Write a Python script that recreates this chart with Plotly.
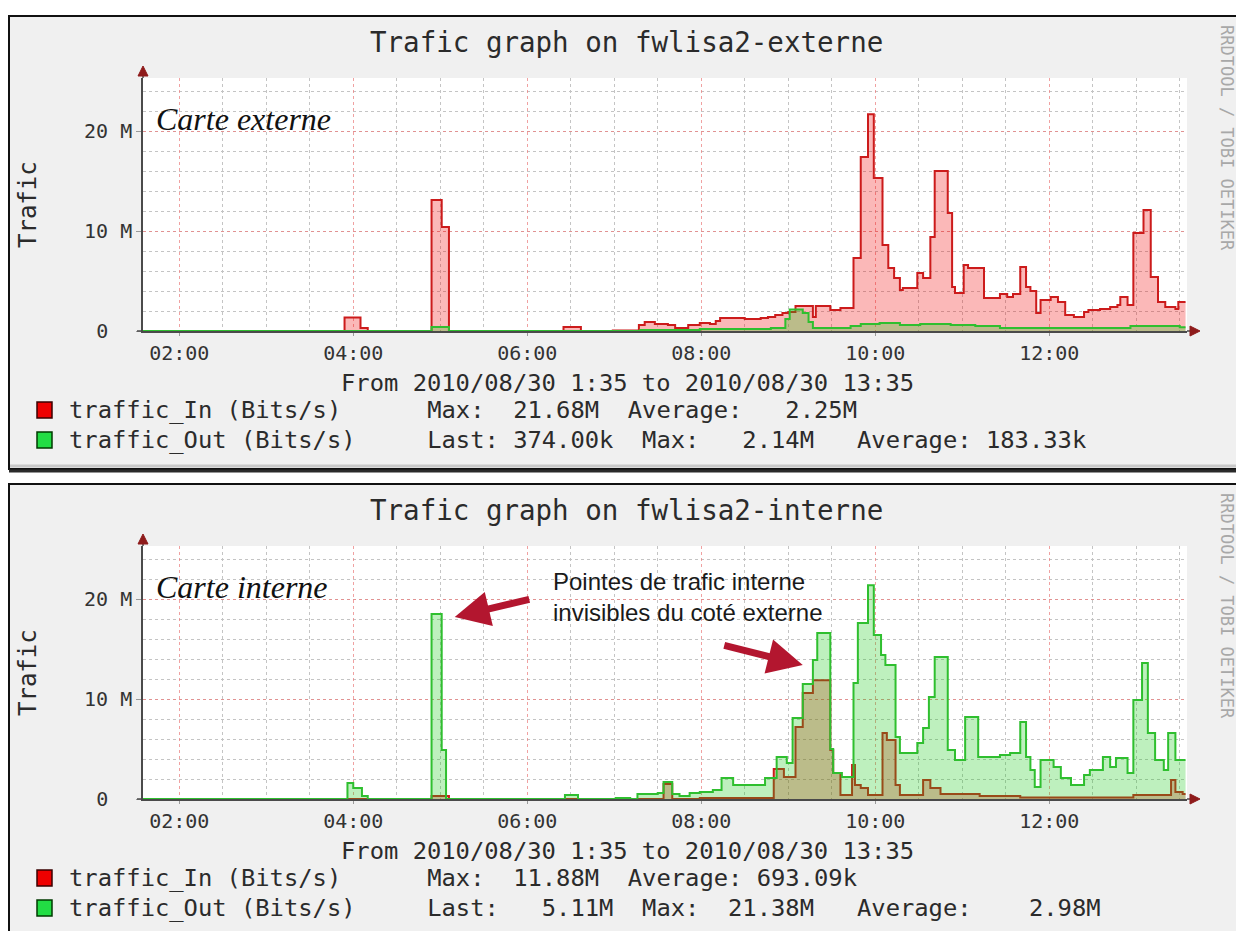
import plotly.graph_objects as go

# ---------------- DATA (values in Mbit/s) ----------------
DATE = "2010-08-30 "

EXT_IN_T = ["01:35","03:54","04:05","04:10","04:54","05:01","05:06","06:25","06:37","06:59",
            "07:17","07:21","07:28","07:37","07:42","07:51","07:59","08:06","08:10","08:13",
            "08:30","08:41","08:46","08:51","08:56","09:00","09:05","09:17","09:19","09:29",
            "09:36","09:45","09:50","09:55","09:59","10:05","10:09","10:13","10:17","10:19",
            "10:29","10:33","10:38","10:41","10:50","10:53","10:55","11:01","11:04","11:15",
            "11:26","11:31","11:35","11:40","11:44","11:47","11:51","11:54","12:01","12:06",
            "12:11","12:17","12:24","12:27","12:35","12:42","12:47","12:49","12:54","12:58",
            "13:05","13:10","13:15","13:20","13:27","13:29","13:34"]
EXT_IN_V = [0, 1.35, 0.3, 0, 13.1, 10.4, 0, 0.4, 0, 0.05,
            0.6, 0.9, 0.7, 0.6, 0.3, 0.6, 0.8, 0.7, 1.0, 1.3,
            1.2, 1.3, 1.4, 1.6, 1.8, 1.9, 2.5, 1.4, 2.5, 2.1,
            2.3, 7.3, 17.4, 21.68, 15.3, 8.6, 6.3, 5.3, 4.1, 4.3,
            5.8, 5.3, 9.4, 16.0, 11.8, 4.4, 3.8, 6.6, 6.3, 3.3,
            3.7, 3.4, 3.7, 6.4, 4.4, 4.0, 1.8, 3.1, 3.4, 2.9,
            1.6, 1.4, 1.9, 2.1, 2.2, 2.4, 2.6, 3.4, 2.6, 9.8,
            12.1, 5.4, 2.9, 2.4, 2.2, 2.9, 2.9]

EXT_OUT_T = ["01:35","04:54","05:06","07:18","07:59","08:48","08:58","09:01","09:10","09:14",
             "09:17","09:43","09:50","10:03","10:17","10:31","10:52","11:09","11:26","12:56",
             "13:30","13:34"]
EXT_OUT_V = [0, 0.4, 0, 0.1, 0.2, 0.3, 1.2, 2.14, 1.8, 0.9,
             0.3, 0.5, 0.7, 0.8, 0.6, 0.7, 0.6, 0.5, 0.3, 0.5,
             0.37, 0.37]

INT_IN_T = ["01:35","04:54","05:06","07:34","07:40","07:59","08:50","08:57","09:05","09:10",
            "09:17","09:29","09:31","09:36","09:44","09:46","09:50","09:55","10:05","10:08",
            "10:14","10:17","10:33","10:38","10:45","11:12","11:40","12:58","13:24","13:27",
            "13:32","13:34"]
INT_IN_V = [0, 0.3, 0, 1.5, 0, 0.1, 3.0, 2.2, 7.2, 10.6,
            11.88, 4.9, 2.6, 0.4, 3.4, 1.4, 1.1, 0.4, 6.6, 5.9,
            1.4, 0.4, 1.9, 1.1, 0.5, 0.3, 0.15, 0.4, 1.9, 0.7,
            0.5, 0.5]

INT_OUT_T = ["01:35","03:56","04:00","04:06","04:10","04:54","05:01","05:04","06:26","06:35",
             "07:01","07:11","07:16","07:30","07:34","07:40","07:45","07:52","07:59","08:08",
             "08:14","08:22","08:44","08:52","08:59","09:03","09:10","09:17","09:20","09:29",
             "09:31","09:37","09:45","09:48","09:55","09:59","10:04","10:07","10:14","10:17",
             "10:29","10:33","10:37","10:41","10:50","10:55","11:02","11:11","11:26","11:33",
             "11:40","11:44","11:47","11:50","11:54","12:03","12:08","12:15","12:24","12:28",
             "12:37","12:42","12:46","12:54","12:58","13:04","13:08","13:13","13:19","13:22",
             "13:27","13:34"]
INT_OUT_V = [0, 1.6, 1.1, 0.3, 0, 18.5, 4.9, 0, 0.4, 0,
             0.1, 0, 0.5, 0.6, 1.7, 0.5, 0.3, 0.6, 0.7, 0.9,
             2.1, 1.4, 2.1, 4.2, 3.6, 8.1, 11.5, 13.9, 16.6, 5.0,
             2.6, 2.2, 11.6, 17.6, 21.38, 16.4, 14.4, 13.4, 6.2, 4.6,
             5.6, 7.1, 10.2, 14.2, 4.9, 3.9, 8.2, 4.2, 4.4, 4.6,
             7.7, 4.2, 2.9, 1.2, 3.9, 3.2, 2.1, 1.4, 2.4, 2.9,
             4.2, 3.2, 4.1, 2.6, 9.9, 13.6, 6.6, 3.9, 2.9, 6.6,
             3.9, 3.9]

TITLES = ["Trafic graph on fwlisa2-externe", "Trafic graph on fwlisa2-interne"]
CARDS = ["Carte externe", "Carte interne"]
PERIOD = "From 2010/08/30 1:35 to 2010/08/30 13:35"
LEGEND_IN = ["traffic_In (Bits/s)      Max:  21.68M  Average:   2.25M",
             "traffic_In (Bits/s)      Max:  11.88M  Average: 693.09k"]
LEGEND_OUT = ["traffic_Out (Bits/s)     Last: 374.00k  Max:   2.14M   Average: 183.33k",
              "traffic_Out (Bits/s)     Last:   5.11M  Max:  21.38M   Average:    2.98M"]
Y_TICKS = [0, 10, 20]
Y_TICKTEXT = ["0\u00a0\u00a0", "10 M", "20 M"]
NOTE = "Pointes de trafic interne<br>invisibles du coté externe"

# ---------------- STYLE / GEOMETRY ----------------
W, H = 1236, 931
OFF = 468            # vertical offset between the two panels (px)
PLOT_L, PLOT_R = 143, 1187
PLOT_T, PLOT_B = 78, 331

RED_LINE = "#cc1b1b"
RED_FILL = "rgba(240,0,0,0.28)"
GREEN_LINE = "#2fbf2f"
GREEN_FILL = "rgba(20,200,20,0.28)"
MONO = "DejaVu Sans Mono"


def px(x):
    return x / W


def py(y):
    return 1 - y / H


def stamp(ts):
    return [DATE + t for t in ts]


fig = go.Figure()

series = [
    (EXT_IN_T, EXT_IN_V, RED_LINE, RED_FILL, "x", "y"),
    (EXT_OUT_T, EXT_OUT_V, GREEN_LINE, GREEN_FILL, "x", "y"),
    (INT_IN_T, INT_IN_V, RED_LINE, RED_FILL, "x2", "y2"),
    (INT_OUT_T, INT_OUT_V, GREEN_LINE, GREEN_FILL, "x2", "y2"),
]
for ts, vs, lc, fc, xa, ya in series:
    fig.add_trace(go.Scatter(
        x=stamp(ts), y=vs, mode="lines",
        line=dict(shape="hv", color=lc, width=2),
        fill="tozeroy", fillcolor=fc,
        xaxis=xa, yaxis=ya, showlegend=False, hoverinfo="skip"))


def xaxis_cfg(off, anchor):
    return dict(
        type="date", anchor=anchor, automargin=False,
        domain=[px(PLOT_L), px(PLOT_R)],
        range=[DATE + "01:35", DATE + "13:35"],
        tickformat="%H:%M", tick0=DATE + "02:00", dtick=7200000,
        showgrid=True, gridcolor="rgba(235,130,130,0.75)", griddash="dot", gridwidth=1,
        minor=dict(tick0=DATE + "02:00", dtick=1800000, showgrid=True,
                   gridcolor="#c4c4c4", griddash="dot", gridwidth=1),
        showline=True, linecolor="#4a4a4a", linewidth=1.5,
        ticks="outside", ticklen=3, tickcolor="#9a9a9a",
        tickfont=dict(family=MONO, size=20, color="#333333"),
        zeroline=False, fixedrange=True)


def yaxis_cfg(off, anchor):
    return dict(
        anchor=anchor, automargin=False,
        domain=[py(PLOT_B + off), py(PLOT_T + off)],
        range=[0, 25.3],
        tickmode="array", tickvals=Y_TICKS, ticktext=Y_TICKTEXT,
        showgrid=True, gridcolor="rgba(235,130,130,0.75)", griddash="dot", gridwidth=1,
        minor=dict(tickmode="linear", tick0=0, dtick=2, showgrid=True,
                   gridcolor="#c4c4c4", griddash="dot", gridwidth=1),
        showline=True, linecolor="#4a4a4a", linewidth=1.5,
        ticks="outside", ticklen=5, tickcolor="#9a9a9a",
        tickfont=dict(family=MONO, size=20, color="#333333"),
        zeroline=False, fixedrange=True)


shapes = []
annotations = []

for i, off in enumerate((0, OFF)):
    # panel background + frame
    shapes.append(dict(type="rect", xref="paper", yref="paper", layer="below",
                       x0=px(9), x1=px(1260), y0=py(16 + off), y1=py(469 + off),
                       fillcolor="#f0f0f0", line=dict(color="#111111", width=2)))
    shapes.append(dict(type="line", xref="paper", yref="paper", layer="above",
                       x0=px(9), x1=px(1260), y0=py(471 + off), y1=py(471 + off),
                       line=dict(color="#2a2a2a", width=3)))
    shapes.append(dict(type="line", xref="paper", yref="paper", layer="below",
                       x0=px(10), x1=px(1260), y0=py(466 + off), y1=py(466 + off),
                       line=dict(color="#c8c8c8", width=3)))
    # white plotting canvas
    shapes.append(dict(type="rect", xref="paper", yref="paper", layer="below",
                       x0=px(PLOT_L), x1=px(PLOT_R), y0=py(PLOT_B + off), y1=py(PLOT_T + off),
                       fillcolor="white", line=dict(width=0)))
    # axis extensions and arrowheads
    shapes.append(dict(type="line", xref="paper", yref="paper",
                       x0=px(PLOT_L - 6), x1=px(PLOT_L), y0=py(PLOT_B + off), y1=py(PLOT_B + off),
                       line=dict(color="#4a4a4a", width=1.5)))
    shapes.append(dict(type="line", xref="paper", yref="paper",
                       x0=px(PLOT_R), x1=px(1192), y0=py(PLOT_B + off), y1=py(PLOT_B + off),
                       line=dict(color="#4a4a4a", width=1.5)))
    shapes.append(dict(type="line", xref="paper", yref="paper",
                       x0=px(PLOT_L), x1=px(PLOT_L), y0=py(PLOT_T + off), y1=py(72 + off),
                       line=dict(color="#4a4a4a", width=1.5)))
    shapes.append(dict(type="path", xref="paper", yref="paper",
                       path=f"M {px(1190)},{py(PLOT_B - 5 + off)} L {px(1200)},{py(PLOT_B + off)} "
                            f"L {px(1190)},{py(PLOT_B + 5 + off)} Z",
                       fillcolor="#8e1b1b", line=dict(color="#8e1b1b", width=1)))
    shapes.append(dict(type="path", xref="paper", yref="paper",
                       path=f"M {px(PLOT_L - 5)},{py(76 + off)} L {px(PLOT_L)},{py(66 + off)} "
                            f"L {px(PLOT_L + 5)},{py(76 + off)} Z",
                       fillcolor="#8e1b1b", line=dict(color="#8e1b1b", width=1)))
    # legend swatches
    shapes.append(dict(type="rect", xref="paper", yref="paper",
                       x0=px(37), x1=px(52), y0=py(418 + off), y1=py(402 + off),
                       fillcolor="#ee0000", line=dict(color="#3a0000", width=1.5)))
    shapes.append(dict(type="rect", xref="paper", yref="paper",
                       x0=px(37), x1=px(52), y0=py(448 + off), y1=py(432 + off),
                       fillcolor="#22dd44", line=dict(color="#003a00", width=1.5)))

    def txt(x, y, text, size, color="#222222", family=MONO, xanchor="center",
            yanchor="middle", angle=0, align="left"):
        annotations.append(dict(xref="paper", yref="paper", x=px(x), y=py(y), text=text,
                                showarrow=False, xanchor=xanchor, yanchor=yanchor,
                                textangle=angle, align=align,
                                font=dict(family=family, size=size, color=color)))

    txt(626, 42 + off, TITLES[i], 27.5, "#2b2b2b")
    txt(28, 205 + off, "Trafic", 24, "#2b2b2b", angle=-90)
    txt(1227, 138 + off, "RRDTOOL / TOBI OETIKER", 17, "#a8a8a8", angle=90)
    txt(627, 383 + off, PERIOD, 23.8, "#2b2b2b")
    txt(67, 410 + off, LEGEND_IN[i].replace(" ", "\u00a0"), 23.8, "#2b2b2b", xanchor="left")
    txt(67, 440 + off, LEGEND_OUT[i].replace(" ", "\u00a0"), 23.8, "#2b2b2b", xanchor="left")
    txt(154, 119 + off, "<i>" + CARDS[i] + "</i>", 32, "#111111",
        family="Liberation Serif", xanchor="left")

# note text and red arrows on the internal graph
annotations.append(dict(xref="paper", yref="paper", x=px(551), y=py(566), text=NOTE,
                        showarrow=False, xanchor="left", yanchor="top", align="left",
                        font=dict(family="Liberation Sans", size=24, color="#1a1a1a")))
annotations.append(dict(xref="x2", yref="y2", x=DATE + "05:10", y=18.2, text="",
                        showarrow=True, arrowhead=2, arrowsize=1.0, arrowwidth=7,
                        arrowcolor="#b3162f", ax=76, ay=-18))
annotations.append(dict(xref="x2", yref="y2", x=DATE + "09:10", y=13.4, text="",
                        showarrow=True, arrowhead=2, arrowsize=1.0, arrowwidth=7,
                        arrowcolor="#b3162f", ax=-80, ay=-20))

fig.update_layout(
    width=W, height=H, autosize=False,
    margin=dict(l=0, r=0, t=0, b=0, pad=0, autoexpand=False),
    paper_bgcolor="white", plot_bgcolor="white",
    showlegend=False,
    xaxis=xaxis_cfg(0, "y"), yaxis=yaxis_cfg(0, "x"),
    xaxis2=xaxis_cfg(OFF, "y2"), yaxis2=yaxis_cfg(OFF, "x2"),
    shapes=shapes, annotations=annotations,
)

PAGE_FIX = (
    "document.documentElement.style.margin='0';"
    "document.documentElement.style.overflow='hidden';"
    "document.body.style.margin='0';"
    "document.body.style.overflow='hidden';"
)

fig.write_html("out.html", config={"displayModeBar": False}, post_script=PAGE_FIX)
